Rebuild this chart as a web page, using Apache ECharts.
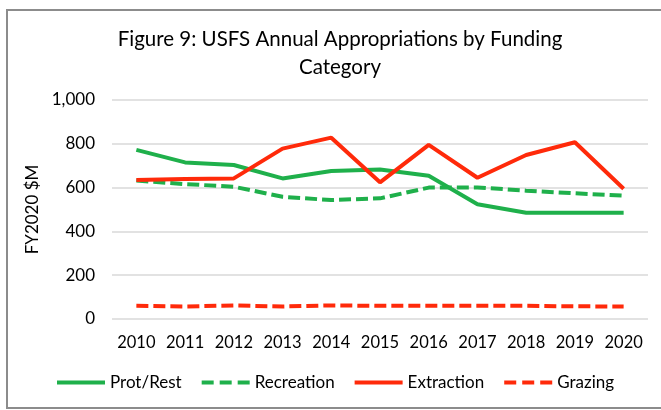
<!DOCTYPE html>
<html><head><meta charset="utf-8">
<script src="https://cdn.jsdelivr.net/npm/echarts@6/dist/echarts.min.js"></script>
<style>html,body{margin:0;padding:0;background:#fff}#c{width:661px;height:410px}</style>
</head><body><div id="c"></div>
<script>
const years = ['2010','2011','2012','2013','2014','2015','2016','2017','2018','2019','2020'];
const protRest = [772, 715, 703, 642, 676, 683, 654, 524, 485, 485, 485];
const recreation = [632, 616, 604, 558, 543, 551, 600, 601, 586, 574, 563];
const extraction = [635, 639, 642, 778, 828, 624, 795, 645, 749, 807, 595];
const grazing = [60, 57, 62, 57, 62, 60, 60, 60, 60, 58, 57];
const GREEN = '#1fb04b', RED = '#ff2a0a';
const font = 'Lato, "Open Sans", sans-serif';
const SOLID = 'path://M0,0H48V4H0Z';
const DASH = 'path://M0,0H12V4H0Z M18,0H30V4H18Z M36,0H48V4H36Z';
const chart = echarts.init(document.getElementById('c'));
function s(name, data, color, dashed){
  return {name, type:'line', data, symbol:'none', smooth:false,
    lineStyle:{color, width:4, type: dashed ? [12,5] : 'solid'}, itemStyle:{color}};
}
chart.setOption({
  animation:false,
  textStyle:{fontFamily:font},
  graphic:[{type:'rect', shape:{x:7,y:10,width:700,height:398}, style:{fill:'none', stroke:'#8c8c8c', lineWidth:2}}],
  title:{text:'Figure 9: USFS Annual Appropriations by Funding\nCategory', left:335, top:20, textAlign:'center',
    textStyle:{fontFamily:font, fontSize:20.5, fontWeight:'normal', color:'#000', lineHeight:28}},
  grid:{left:112, right:13, top:100, bottom:91},
  xAxis:{type:'category', data:years, boundaryGap:true,
    axisLine:{show:false}, axisTick:{show:false},
    axisLabel:{color:'#000', fontSize:16.5, margin:15, interval:0, fontFamily:font}},
  yAxis:{type:'value', min:0, max:1000, interval:200,
    name:'FY2020 $M', nameLocation:'middle', nameGap:66, nameRotate:90,
    nameTextStyle:{color:'#000', fontSize:17, fontFamily:font},
    axisLabel:{color:'#000', fontSize:17, margin:17, fontFamily:font,
      formatter:v=>v.toLocaleString('en-US')},
    splitLine:{lineStyle:{color:'#d9d9d9', width:1.5}}},
  legend:{top:374, left:57, padding:0, itemWidth:48, itemHeight:4, itemGap:20, symbolKeepAspect:false,
    textStyle:{color:'#000', fontSize:17, fontFamily:font},
    data:[{name:'Prot/Rest', icon:SOLID},{name:'Recreation', icon:DASH},
          {name:'Extraction', icon:SOLID},{name:'Grazing', icon:DASH}]},
  series:[s('Prot/Rest',protRest,GREEN,false), s('Recreation',recreation,GREEN,true),
    s('Extraction',extraction,RED,false), s('Grazing',grazing,RED,true)]
});
</script></body></html>
